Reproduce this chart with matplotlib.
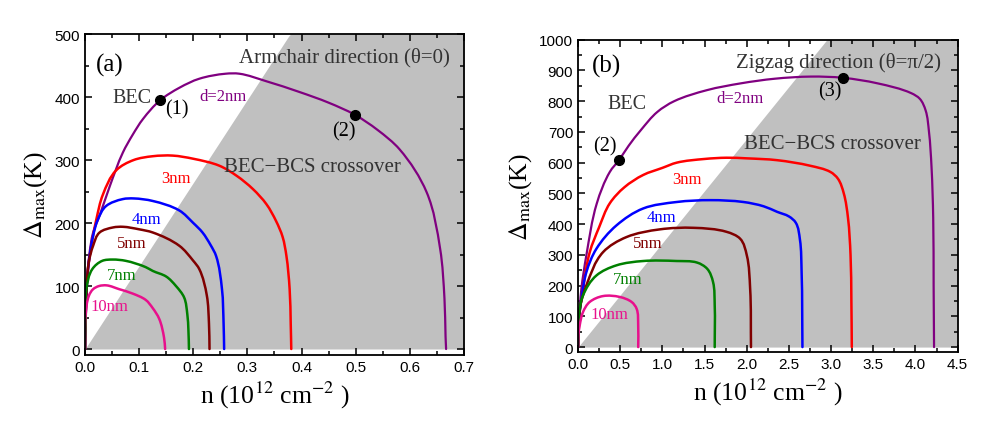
import matplotlib
matplotlib.use("Agg")
import matplotlib.pyplot as plt
import matplotlib.ticker as ticker
from matplotlib.path import Path
from matplotlib.patches import PathPatch
import numpy as np

plt.rcParams['font.family'] = ['Liberation Serif', 'DejaVu Serif']
plt.rcParams['mathtext.fontset'] = 'stix'

# ---- panel (a): armchair direction ----
a_n_2 = [0, 0.003, 0.008, 0.015, 0.027, 0.046, 0.070, 0.088, 0.107, 0.139, 0.175, 0.211, 0.26, 0.285,
         0.335, 0.396, 0.45, 0.498, 0.54, 0.581, 0.631, 0.656, 0.664, 0.666, 0.667]
a_d_2 = [0, 100, 150, 185, 212, 259, 312, 340, 365, 395, 415, 429, 437, 437,
         425, 408, 391, 372, 348, 317, 249, 159, 80, 20, 0]
a_n_3 = [0, 0.002, 0.0056, 0.0117, 0.021, 0.033, 0.058, 0.09, 0.125, 0.162, 0.2, 0.248, 0.28, 0.31,
         0.335, 0.353, 0.365, 0.372, 0.378, 0.38, 0.381]
a_d_3 = [0, 80, 127, 164, 206, 245, 284, 300, 306, 307, 302, 291, 275, 254,
         230, 203, 178, 148, 95, 40, 0]
a_n_4 = [0, 0.002, 0.0056, 0.015, 0.024, 0.039, 0.07, 0.09, 0.125, 0.174, 0.2, 0.217, 0.232, 0.242,
         0.253, 0.256, 0.257]
a_d_4 = [0, 75, 127, 180, 206, 227, 238, 239, 235, 220, 200, 185, 165, 148, 95, 40, 0]
a_n_5 = [0, 0.002, 0.007, 0.015, 0.027, 0.052, 0.07, 0.1, 0.125, 0.174, 0.2, 0.211, 0.225, 0.229, 0.230]
a_d_5 = [0, 70, 138, 164, 185, 193, 194, 190, 185, 164, 140, 127, 85, 40, 0]
a_n_7 = [0, 0.001, 0.0025, 0.0136, 0.032, 0.051, 0.075, 0.112, 0.125, 0.15, 0.168, 0.183, 0.189,
         0.191, 0.192]
a_d_7 = [0, 50, 95, 127, 140, 142, 140, 130, 124, 115, 100, 82, 55, 30, 0]
a_n_10 = [0, 0.001, 0.0074, 0.015, 0.026, 0.04, 0.063, 0.088, 0.112, 0.125, 0.137, 0.146, 0.148]
a_d_10 = [0, 53, 85, 95, 100, 101, 95, 88, 78, 65, 48, 18, 0]
a_mark_n = [0.139, 0.498]
a_mark_d = [395, 372]
a_slope = 1320.0  # BEC / crossover boundary, K per 1e12 cm^-2

# ---- panel (b): zigzag direction ----
b_n_2 = [0, 0.01, 0.04, 0.099, 0.222, 0.377, 0.49, 0.6, 0.742, 0.94, 1.14, 1.53, 1.93, 2.33, 2.76,
         3.14, 3.55, 3.95, 4.05, 4.12, 4.16, 4.19, 4.21, 4.215, 4.22]
b_d_2 = [0, 80, 190, 299, 467, 570, 610, 655, 705, 765, 800, 836, 858, 873, 880,
         876, 858, 826, 808, 770, 700, 586, 420, 200, 0]
b_n_3 = [0, 0.02, 0.059, 0.139, 0.25, 0.377, 0.55, 0.773, 1.0, 1.17, 1.5, 1.76, 2.0, 2.36, 2.75,
         2.99, 3.08, 3.15, 3.2, 3.23, 3.24, 3.245]
b_d_3 = [0, 114, 190, 309, 390, 468, 520, 560, 583, 600, 612, 616, 614, 608, 590,
         570, 548, 500, 420, 300, 150, 0]
b_n_4 = [0, 0.01, 0.04, 0.099, 0.218, 0.456, 0.773, 1.17, 1.57, 1.96, 2.2, 2.36, 2.5, 2.58, 2.63, 2.65, 2.66]
b_d_4 = [0, 90, 157, 244, 320, 396, 451, 472, 478, 472, 458, 440, 425, 405, 350, 244, 0]
b_n_5 = [0, 0.01, 0.028, 0.099, 0.297, 0.575, 0.971, 1.37, 1.76, 1.92, 2.0, 2.04, 2.05]
b_d_5 = [0, 90, 136, 201, 309, 358, 383, 388, 375, 353, 299, 190, 0]
b_n_7 = [0, 0.005, 0.012, 0.059, 0.218, 0.456, 0.773, 1.17, 1.41, 1.53, 1.6, 1.62, 1.62]
b_d_7 = [0, 60, 103, 168, 233, 266, 280, 280, 275, 255, 212, 136, 0]
b_n_10 = [0, 0.005, 0.02, 0.059, 0.139, 0.297, 0.495, 0.634, 0.694, 0.713, 0.713]
b_d_10 = [0, 40, 71, 114, 147, 166, 163, 147, 125, 71, 0]
b_mark_n = [0.49, 3.14]
b_mark_d = [610, 876]
b_slope = 339.0

colors = {'2': '#800080', '3': '#ff0000', '4': '#0000ff', '5': '#800000', '7': '#008000', '10': '#e8108c'}
gray = '#c0c0c0'
txt_gray = '#333333'


def smooth_path(nn, dd, xmax, ymax):
    """
    Bezier path through the read points (tangents from neighbouring chords)
    :return: Path in data coordinates
    """
    p = np.column_stack([np.asarray(nn, float) / xmax, np.asarray(dd, float) / ymax])
    seg = np.diff(p, axis=0)
    seg_len = np.hypot(seg[:, 0], seg[:, 1])
    seg_len[seg_len == 0] = 1e-9
    unit = seg / seg_len[:, None]
    tang = np.zeros_like(p)
    tang[0] = unit[0]
    tang[-1] = unit[-1]
    t = unit[:-1] + unit[1:]
    t_len = np.hypot(t[:, 0], t[:, 1])
    t_len[t_len == 0] = 1e-9
    tang[1:-1] = t / t_len[:, None]
    verts = [p[0]]
    codes = [Path.MOVETO]
    for i in range(len(p) - 1):
        d = seg_len[i] / 3.0
        verts += [p[i] + tang[i] * d, p[i + 1] - tang[i + 1] * d, p[i + 1]]
        codes += [Path.CURVE4] * 3
    verts = np.array(verts) * [xmax, ymax]
    return Path(verts, codes)


def setup_axes(ax, xmax, ymin, ymax, xmaj, xmin_, ymaj, ymin_):
    ax.set_xlim(0, xmax)
    ax.set_ylim(ymin, ymax)
    ax.xaxis.set_major_locator(ticker.MultipleLocator(xmaj))
    ax.xaxis.set_minor_locator(ticker.MultipleLocator(xmin_))
    ax.yaxis.set_major_locator(ticker.MultipleLocator(ymaj))
    ax.yaxis.set_minor_locator(ticker.MultipleLocator(ymin_))
    ax.tick_params(which='both', direction='in', top=True, right=True, width=1.1)
    ax.tick_params(which='major', length=5)
    ax.tick_params(which='minor', length=3)
    for lab in ax.get_xticklabels() + ax.get_yticklabels():
        lab.set_family('Liberation Sans')
        lab.set_fontsize(11)
    for sp in ax.spines.values():
        sp.set_linewidth(1.3)
    ax.set_xlabel('n (10$^{12}$ cm$^{-2}$ )', fontsize=18.5, labelpad=4)
    ax.set_ylabel(r'$\Delta_{\rm max}$(K)', fontsize=18.5, labelpad=4)


def draw_panel(ax, curves, slope, xmax, ymax, marks):
    xs = np.linspace(0, xmax, 200)
    ax.fill_between(xs, 0, np.minimum(slope * xs, ymax), color=gray, lw=0, zorder=0)
    for key, (nn, dd) in curves.items():
        patch = PathPatch(smooth_path(nn, dd, xmax, ymax), facecolor='none', edgecolor=colors[key],
                          lw=1.8 if key != '2' else 1.6, zorder=2, capstyle='round', joinstyle='round')
        ax.add_patch(patch)
    ax.plot(marks[0], marks[1], 'o', color='black', ms=7, zorder=3)


fig = plt.figure(figsize=(9.92, 4.27), dpi=100)
ax1 = fig.add_axes([0.0857, 0.1663, 0.3820, 0.7517])
ax2 = fig.add_axes([0.5827, 0.1733, 0.3827, 0.7314])

draw_panel(ax1, {'2': (a_n_2, a_d_2), '3': (a_n_3, a_d_3), '4': (a_n_4, a_d_4), '5': (a_n_5, a_d_5),
                 '7': (a_n_7, a_d_7), '10': (a_n_10, a_d_10)}, a_slope, 0.7, 500, (a_mark_n, a_mark_d))
setup_axes(ax1, 0.7, -9.5, 500, 0.1, 0.05, 100, 50)

draw_panel(ax2, {'2': (b_n_2, b_d_2), '3': (b_n_3, b_d_3), '4': (b_n_4, b_d_4), '5': (b_n_5, b_d_5),
                 '7': (b_n_7, b_d_7), '10': (b_n_10, b_d_10)}, b_slope, 4.5, 1000, (b_mark_n, b_mark_d))
setup_axes(ax2, 4.5, -16, 1000, 0.5, 0.25, 100, 50)

small = 12

# panel (a) texts
ax1.text(0.02, 452, '(a)', fontsize=18, va='center')
ax1.text(0.285, 464, 'Armchair direction (θ=0)', fontsize=15, color=txt_gray, va='center')
ax1.text(0.05, 400, 'BEC', fontsize=14.5, color=txt_gray, va='center')
ax1.text(0.148, 381, '(1)', fontsize=14.5, va='center')
ax1.text(0.211, 402, 'd=2nm', fontsize=small, color=colors['2'], va='center')
ax1.text(0.456, 346, '(2)', fontsize=14.5, va='center')
ax1.text(0.257, 289, 'BEC\u2212BCS crossover', fontsize=15, color=txt_gray, va='center')
ax1.text(0.141, 271, '3nm', fontsize=small, color=colors['3'], va='center')
ax1.text(0.087, 206, '4nm', fontsize=small, color=colors['4'], va='center')
ax1.text(0.059, 168, '5nm', fontsize=small, color=colors['5'], va='center')
ax1.text(0.041, 117, '7nm', fontsize=small, color=colors['7'], va='center')
ax1.text(0.011, 68, '10nm', fontsize=small, color=colors['10'], va='center')

# panel (b) texts
ax2.text(0.163, 916, '(b)', fontsize=18, va='center')
ax2.text(1.875, 929, 'Zigzag direction (θ=π/2)', fontsize=15, color=txt_gray, va='center')
ax2.text(0.353, 792, 'BEC', fontsize=14.5, color=txt_gray, va='center')
ax2.text(1.636, 809, 'd=2nm', fontsize=small, color=colors['2'], va='center')
ax2.text(2.85, 835, '(3)', fontsize=14.5, va='center')
ax2.text(0.175, 656, '(2)', fontsize=14.5, va='center')
ax2.text(1.97, 662, 'BEC\u2212BCS crossover', fontsize=15, color=txt_gray, va='center')
ax2.text(1.115, 548, '3nm', fontsize=small, color=colors['3'], va='center')
ax2.text(0.818, 424, '4nm', fontsize=small, color=colors['4'], va='center')
ax2.text(0.65, 339, '5nm', fontsize=small, color=colors['5'], va='center')
ax2.text(0.413, 222, '7nm', fontsize=small, color=colors['7'], va='center')
ax2.text(0.151, 108, '10nm', fontsize=small, color=colors['10'], va='center')

fig.savefig('out.png', dpi=100)
